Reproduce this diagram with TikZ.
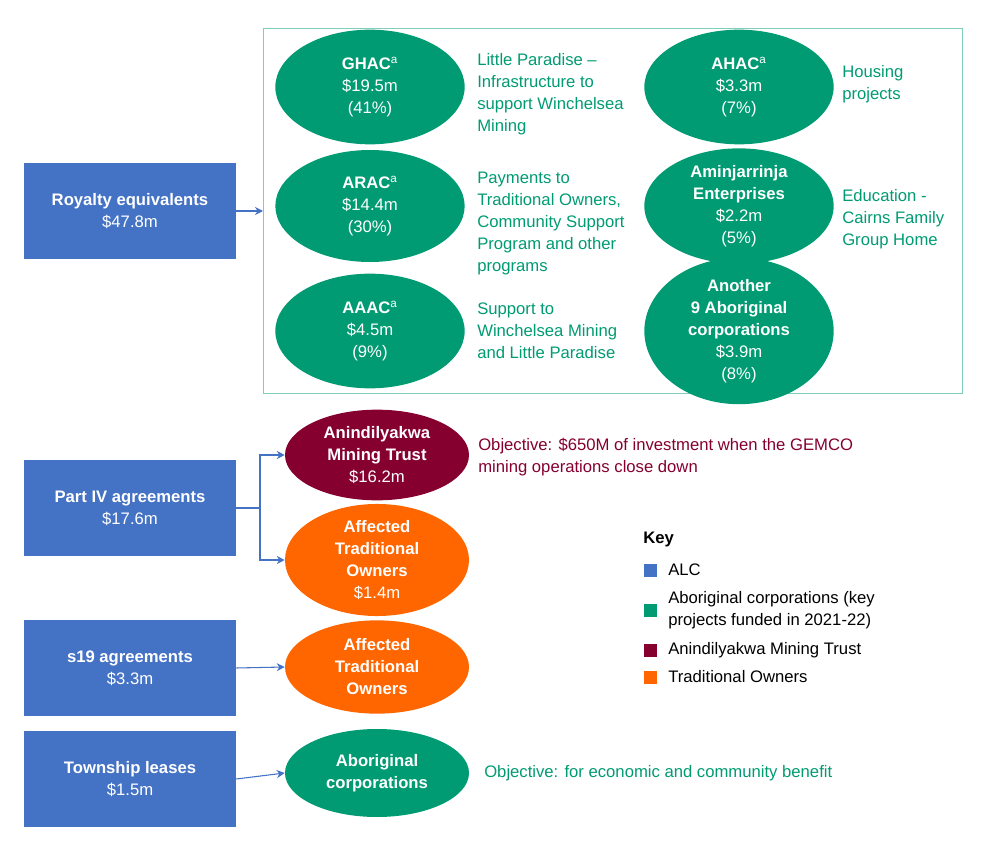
\documentclass[tikz,border=0pt]{standalone}
\usepackage{fontspec}
\setmainfont{Liberation Sans}
\usetikzlibrary{shapes.geometric,arrows.meta}
\definecolor{alcblue}{HTML}{4472C4}
\definecolor{agreen}{HTML}{009B72}
\definecolor{maroon}{HTML}{85002F}
\definecolor{orng}{HTML}{FF6600}
\begin{document}
\begin{tikzpicture}[x=0.75pt,y=-0.75pt,
  every node/.style={font=\fontsize{12.5}{16.5}\selectfont},
  box/.style={draw=none,fill=alcblue,text=white,minimum width=159pt,minimum height=72pt,align=center,inner sep=0pt},
  ell/.style={ellipse,fill=#1,text=white,align=center,inner sep=0pt},
  txt/.style={text=agreen,align=left,anchor=north west,inner sep=0pt},
  arr/.style={draw=alcblue,thick,-{Stealth[length=6pt,width=6pt]}},
  key/.style={fill=#1,minimum size=9.75pt,inner sep=0pt}]
\useasboundingbox (0,0) rectangle (986,852);
\draw[agreen!50,thin] (263,28) rectangle (962,393);
\node[box] (roy) at (130,211) {\textbf{Royalty equivalents}\\\$47.8m};
\coordinate (fr) at (263,211);
\draw[arr] (roy) -- (fr);
\node[ell=agreen,minimum width=142pt,minimum height=86pt] (ghac) at (370,87) {\textbf{GHAC}\textsuperscript{a}\\\$19.5m\\(41\%)};
\node[ell=agreen,minimum width=142pt,minimum height=84pt] (arac) at (370,206) {\textbf{ARAC}\textsuperscript{a}\\\$14.4m\\(30\%)};
\node[ell=agreen,minimum width=142pt,minimum height=86pt] (aaac) at (370,331) {\textbf{AAAC}\textsuperscript{a}\\\$4.5m\\(9\%)};
\node[ell=agreen,minimum width=142pt,minimum height=86pt] (ahac) at (739,87) {\textbf{AHAC}\textsuperscript{a}\\\$3.3m\\(7\%)};
\node[ell=agreen,minimum width=142pt,minimum height=84pt] (amin) at (739,206) {\textbf{Aminjarrinja}\\\textbf{Enterprises}\\\$2.2m\\(5\%)};
\node[ell=agreen,minimum width=142pt,minimum height=86pt] (anoth) at (739,331) {\textbf{Another}\\\textbf{9 Aboriginal}\\\textbf{corporations}\\\$3.9m\\(8\%)};
\node[txt] (t1) at (477,53) {Little Paradise –\\Infrastructure to\\support Winchelsea\\Mining};
\node[txt] (t2) at (477,172) {Payments to\\Traditional Owners,\\Community Support\\Program and other\\programs};
\node[txt] (t3) at (477,303) {Support to\\Winchelsea Mining\\and Little Paradise};
\node[txt] (t4) at (842,65) {Housing\\projects};
\node[txt] (t5) at (842,189) {Education -\\Cairns Family\\Group Home};
\node[box] (p4) at (130,508) {\textbf{Part IV agreements}\\\$17.6m};
\node[ell=maroon,minimum width=138pt,minimum height=68pt] (amt) at (377,455) {\textbf{Anindilyakwa}\\\textbf{Mining Trust}\\\$16.2m};
\node[ell=orng,minimum width=138pt,minimum height=72pt] (ato1) at (377,560) {\textbf{Affected}\\\textbf{Traditional}\\\textbf{Owners}\\\$1.4m};
\coordinate (j) at (260,508);
\draw[alcblue,thick] (p4.east) -- (j);
\draw[arr] (j) |- (amt.west);
\draw[arr] (j) |- (ato1.west);
\node[anchor=north west,inner sep=0pt,text=maroon,align=left] (o1) at (478,438) {Objective: \$650M of investment when the GEMCO\\mining operations close down};
\node[box] (s19) at (130,668) {\textbf{s19 agreements}\\\$3.3m};
\node[ell=orng,minimum width=138pt,minimum height=70pt] (ato2) at (377,667) {\textbf{Affected}\\\textbf{Traditional}\\\textbf{Owners}};
\draw[arr] (s19.east) -- (ato2.west);
\node[box] (tl) at (130,779) {\textbf{Township leases}\\\$1.5m};
\node[ell=agreen,minimum width=138pt,minimum height=66pt] (ac) at (377,773) {\textbf{Aboriginal}\\\textbf{corporations}};
\draw[arr] (tl.east) -- (ac.west);
\node[anchor=west,inner sep=0pt,text=agreen] (o2) at (484,773) {Objective: for economic and community benefit};
\node[anchor=west,inner sep=0pt] (kt) at (643,539) {\textbf{Key}};
\node[key=alcblue] (k1) at (650,570) {};
\node[anchor=west,inner sep=0pt] (kl1) at (668,570) {ALC};
\node[key=agreen] (k2) at (650,610) {};
\node[anchor=west,inner sep=0pt,align=left] (kl2) at (668,610) {Aboriginal corporations (key\\projects funded in 2021-22)};
\node[key=maroon] (k3) at (650,650) {};
\node[anchor=west,inner sep=0pt] (kl3) at (668,650) {Anindilyakwa Mining Trust};
\node[key=orng] (k4) at (650,677) {};
\node[anchor=west,inner sep=0pt] (kl4) at (668,677) {Traditional Owners};
\end{tikzpicture}
\end{document}
